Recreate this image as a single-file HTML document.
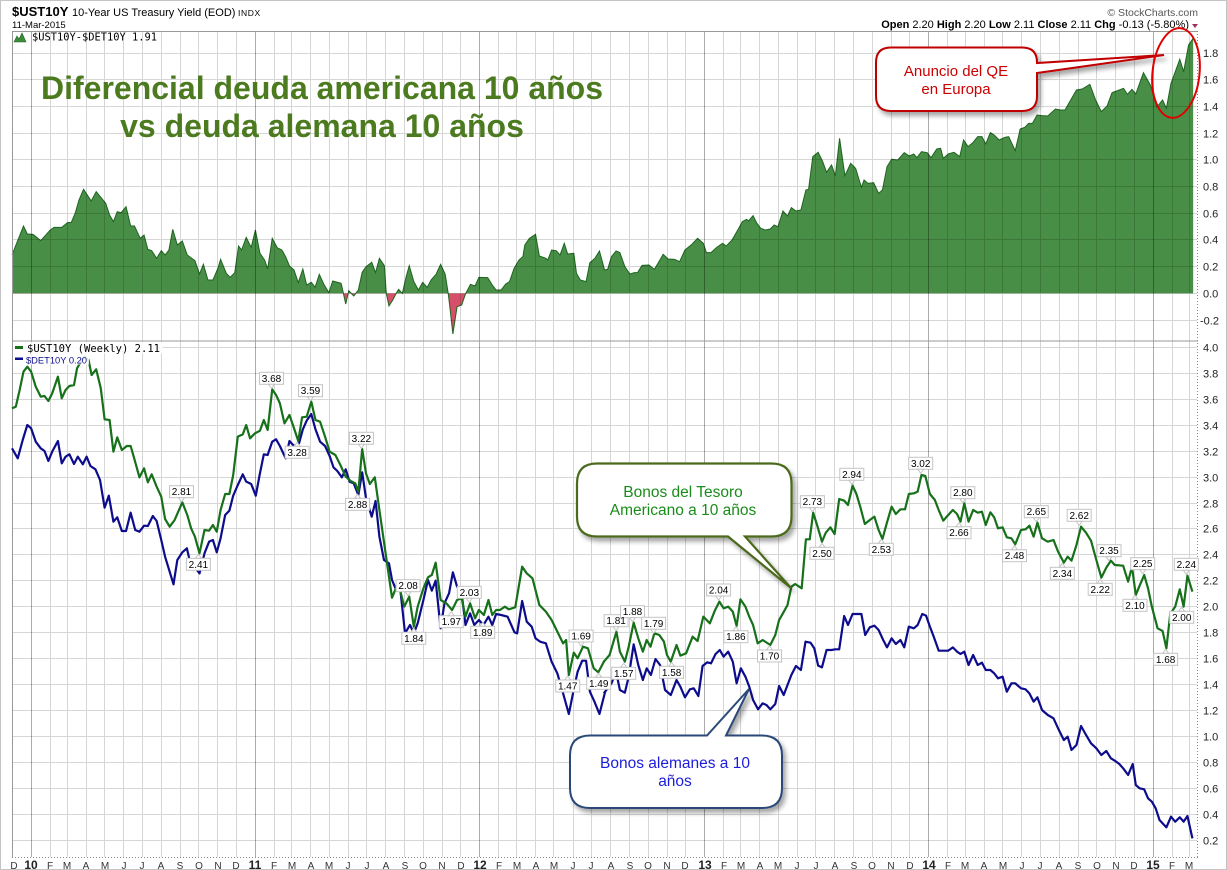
<!DOCTYPE html>
<html><head><meta charset="utf-8"><style>
html,body{margin:0;padding:0;background:#fff;}
svg{display:block;font-family:"Liberation Sans",Arial,sans-serif;}
</style></head><body>
<svg width="1227" height="870" viewBox="0 0 1227 870" xmlns="http://www.w3.org/2000/svg">
<defs>
<filter id="sh" x="-10%" y="-10%" width="130%" height="140%"><feDropShadow dx="3" dy="4" stdDeviation="2.5" flood-color="#000" flood-opacity="0.35"/></filter>
<clipPath id="negA" clipPathUnits="userSpaceOnUse"><rect x="-10" y="430" width="2000" height="400"/></clipPath>
</defs>
<rect x="0.5" y="0.5" width="1226" height="869" fill="#fff" stroke="#c4c4c4"/>

<!-- header -->
<text x="12" y="16" font-size="13" font-weight="bold" fill="#000">$UST10Y</text>
<text x="72" y="16" font-size="11" fill="#000">10-Year US Treasury Yield (EOD)</text>
<text x="238" y="16" font-size="8.5" fill="#000" letter-spacing="0.6">INDX</text>
<text x="12" y="28" font-size="9.5" fill="#000">11-Mar-2015</text>
<text x="1198" y="16" font-size="10.5" fill="#555" text-anchor="end">© StockCharts.com</text>
<text x="1189" y="28" font-size="11" fill="#000" text-anchor="end"><tspan font-weight="bold">Open</tspan> 2.20  <tspan font-weight="bold">High</tspan> 2.20  <tspan font-weight="bold">Low</tspan> 2.11  <tspan font-weight="bold">Close</tspan> 2.11  <tspan font-weight="bold">Chg</tspan> -0.13 (-5.80%)</text>
<polygon points="1192,24 1198,24 1195,28" fill="#a0305a"/>

<!-- spread area A -->
<g transform="translate(12,150) scale(0.38270,0.33333)">
<polygon fill="#488e46" points="0,315 30,228 40,252 55,253 75,272 100,240 110,232 130,232 145,218 155,217 165,190 175,150 187,118 207,153 220,125 245,160 255,195 265,215 275,185 285,188 298,170 310,228 320,228 335,265 345,255 355,298 365,302 378,325 390,302 400,315 410,300 420,238 432,285 445,273 458,315 478,332 490,372 500,343 512,390 525,390 538,355 545,328 560,370 570,382 582,368 592,288 600,300 612,262 625,292 636,240 648,310 660,330 668,357 680,265 693,293 705,300 715,320 725,348 737,360 748,398 760,357 770,405 782,397 792,412 803,373 815,403 828,428 838,393 860,400 866,430 872,462 880,422 893,438 905,420 915,367 925,350 940,337 950,368 960,325 973,347 978,430 985,468 995,450 1003,432 1010,418 1020,430 1030,380 1038,347 1050,395 1062,420 1073,397 1085,412 1095,390 1108,373 1120,343 1132,373 1140,432 1145,480 1152,552 1163,470 1175,465 1185,432 1198,403 1210,408 1220,382 1243,383 1255,405 1265,420 1278,420 1290,402 1300,395 1312,355 1325,330 1335,320 1340,285 1352,265 1368,253 1378,318 1395,325 1400,330 1410,300 1422,302 1432,315 1443,280 1452,312 1468,310 1475,370 1485,390 1500,395 1510,338 1523,325 1535,303 1548,358 1548,430 0,430"/>
<polygon fill="#d6506a" clip-path="url(#negA)" points="0,315 30,228 40,252 55,253 75,272 100,240 110,232 130,232 145,218 155,217 165,190 175,150 187,118 207,153 220,125 245,160 255,195 265,215 275,185 285,188 298,170 310,228 320,228 335,265 345,255 355,298 365,302 378,325 390,302 400,315 410,300 420,238 432,285 445,273 458,315 478,332 490,372 500,343 512,390 525,390 538,355 545,328 560,370 570,382 582,368 592,288 600,300 612,262 625,292 636,240 648,310 660,330 668,357 680,265 693,293 705,300 715,320 725,348 737,360 748,398 760,357 770,405 782,397 792,412 803,373 815,403 828,428 838,393 860,400 866,430 872,462 880,422 893,438 905,420 915,367 925,350 940,337 950,368 960,325 973,347 978,430 985,468 995,450 1003,432 1010,418 1020,430 1030,380 1038,347 1050,395 1062,420 1073,397 1085,412 1095,390 1108,373 1120,343 1132,373 1140,432 1145,480 1152,552 1163,470 1175,465 1185,432 1198,403 1210,408 1220,382 1243,383 1255,405 1265,420 1278,420 1290,402 1300,395 1312,355 1325,330 1335,320 1340,285 1352,265 1368,253 1378,318 1395,325 1400,330 1410,300 1422,302 1432,315 1443,280 1452,312 1468,310 1475,370 1485,390 1500,395 1510,338 1523,325 1535,303 1548,358 1548,430 0,430"/>
<polyline fill="none" stroke="#1e6420" stroke-width="1" vector-effect="non-scaling-stroke" points="0,315 30,228 40,252 55,253 75,272 100,240 110,232 130,232 145,218 155,217 165,190 175,150 187,118 207,153 220,125 245,160 255,195 265,215 275,185 285,188 298,170 310,228 320,228 335,265 345,255 355,298 365,302 378,325 390,302 400,315 410,300 420,238 432,285 445,273 458,315 478,332 490,372 500,343 512,390 525,390 538,355 545,328 560,370 570,382 582,368 592,288 600,300 612,262 625,292 636,240 648,310 660,330 668,357 680,265 693,293 705,300 715,320 725,348 737,360 748,398 760,357 770,405 782,397 792,412 803,373 815,403 828,428 838,393 860,400 866,430 872,462 880,422 893,438 905,420 915,367 925,350 940,337 950,368 960,325 973,347 978,430 985,468 995,450 1003,432 1010,418 1020,430 1030,380 1038,347 1050,395 1062,420 1073,397 1085,412 1095,390 1108,373 1120,343 1132,373 1140,432 1145,480 1152,552 1163,470 1175,465 1185,432 1198,403 1210,408 1220,382 1243,383 1255,405 1265,420 1278,420 1290,402 1300,395 1312,355 1325,330 1335,320 1340,285 1352,265 1368,253 1378,318 1395,325 1400,330 1410,300 1422,302 1432,315 1443,280 1452,312 1468,310 1475,370 1485,390 1500,395 1510,338 1523,325 1535,303 1548,358"/>
</g>
<!-- spread area B -->
<g transform="translate(600,30) scale(0.38270,0.33333)">
<polygon fill="#488e46" points="10,790 10,720 20,718 30,680 42,663 52,668 65,710 78,732 90,728 98,728 110,706 128,705 142,718 155,693 165,673 178,687 195,688 208,695 222,660 240,643 255,625 270,640 278,668 290,668 305,652 320,640 330,648 345,630 360,600 372,575 383,568 388,573 400,557 410,580 420,595 432,600 445,597 455,585 465,590 478,543 490,558 500,533 512,543 525,540 538,480 545,478 556,380 570,367 582,395 592,427 605,405 615,437 626,325 640,437 655,400 668,415 683,472 690,450 700,460 715,458 728,490 738,480 750,410 762,388 778,390 795,368 808,378 820,372 828,383 840,365 855,368 865,383 880,357 890,355 897,385 910,372 925,367 940,380 950,330 962,350 975,337 987,320 998,320 1008,342 1020,308 1030,315 1043,330 1058,322 1068,320 1085,362 1098,297 1110,292 1120,280 1130,280 1142,255 1155,257 1170,258 1190,237 1203,240 1215,240 1230,210 1245,180 1260,177 1280,163 1295,210 1310,245 1325,228 1338,188 1350,183 1368,175 1378,193 1390,178 1400,192 1420,128 1438,165 1455,232 1470,210 1480,235 1492,160 1515,88 1525,125 1538,45 1550,25 1550,790"/>
<polyline fill="none" stroke="#1e6420" stroke-width="1" vector-effect="non-scaling-stroke" points="10,720 20,718 30,680 42,663 52,668 65,710 78,732 90,728 98,728 110,706 128,705 142,718 155,693 165,673 178,687 195,688 208,695 222,660 240,643 255,625 270,640 278,668 290,668 305,652 320,640 330,648 345,630 360,600 372,575 383,568 388,573 400,557 410,580 420,595 432,600 445,597 455,585 465,590 478,543 490,558 500,533 512,543 525,540 538,480 545,478 556,380 570,367 582,395 592,427 605,405 615,437 626,325 640,437 655,400 668,415 683,472 690,450 700,460 715,458 728,490 738,480 750,410 762,388 778,390 795,368 808,378 820,372 828,383 840,365 855,368 865,383 880,357 890,355 897,385 910,372 925,367 940,380 950,330 962,350 975,337 987,320 998,320 1008,342 1020,308 1030,315 1043,330 1058,322 1068,320 1085,362 1098,297 1110,292 1120,280 1130,280 1142,255 1155,257 1170,258 1190,237 1203,240 1215,240 1230,210 1245,180 1260,177 1280,163 1295,210 1310,245 1325,228 1338,188 1350,183 1368,175 1378,193 1390,178 1400,192 1420,128 1438,165 1455,232 1470,210 1480,235 1492,160 1515,88 1525,125 1538,45 1550,25"/>
</g>

<!-- gridlines -->
<path fill="none" stroke="#000" stroke-opacity="0.16" stroke-width="1" d="M50.5 31V857M67.5 31V857M86.5 31V857M104.5 31V857M123.5 31V857M142.5 31V857M161.5 31V857M180.5 31V857M198.5 31V857M217.5 31V857M236.5 31V857M274.5 31V857M291.5 31V857M310.5 31V857M329.5 31V857M348.5 31V857M366.5 31V857M385.5 31V857M404.5 31V857M423.5 31V857M442.5 31V857M460.5 31V857M498.5 31V857M516.5 31V857M535.5 31V857M553.5 31V857M573.5 31V857M591.5 31V857M610.5 31V857M629.5 31V857M648.5 31V857M667.5 31V857M685.5 31V857M723.5 31V857M740.5 31V857M759.5 31V857M778.5 31V857M797.5 31V857M815.5 31V857M834.5 31V857M853.5 31V857M872.5 31V857M891.5 31V857M909.5 31V857M947.5 31V857M965.5 31V857M984.5 31V857M1002.5 31V857M1021.5 31V857M1040.5 31V857M1059.5 31V857M1078.5 31V857M1096.5 31V857M1115.5 31V857M1134.5 31V857M1172.5 31V857M1189.5 31V857
M12 53.5H1197M12 79.5H1197M12 106.5H1197M12 133.5H1197M12 159.5H1197M12 186.5H1197M12 213.5H1197M12 239.5H1197M12 266.5H1197M12 293.5H1197M12 320.5H1197
M12 347.5H1197M12 373.5H1197M12 399.5H1197M12 425.5H1197M12 451.5H1197M12 477.5H1197M12 503.5H1197M12 528.5H1197M12 554.5H1197M12 580.5H1197M12 606.5H1197M12 632.5H1197M12 658.5H1197M12 684.5H1197M12 710.5H1197M12 736.5H1197M12 762.5H1197M12 788.5H1197M12 814.5H1197M12 840.5H1197"/>
<path fill="none" stroke="#000" stroke-opacity="0.33" stroke-width="1" d="M31.5 31V857M255.5 31V857M479.5 31V857M704.5 31V857M928.5 31V857M1153.5 31V857"/>
<!-- frame -->
<path fill="none" stroke="#999" stroke-width="1" d="M12.5 31V857M12 31.5H1198M12 341H1198"/>
<path fill="none" stroke="#888" stroke-width="1" stroke-dasharray="1,2" d="M1197.5 31V857M12 857.5H1198"/>

<!-- legends top -->
<polygon points="14,42 17,36 19,39 22,33 26,42" fill="#3c8c3a" stroke="#1e6420" stroke-width="0.6"/>
<text x="32" y="40.5" font-family="'DejaVu Sans Mono',monospace" font-size="10.4" fill="#000" textLength="125" lengthAdjust="spacingAndGlyphs">$UST10Y-$DET10Y 1.91</text>

<!-- lines lower panel -->
<g transform="translate(12,340) scale(0.38270,0.33333)" fill="none" stroke-width="2.2" stroke-linejoin="round" vector-effect="non-scaling-stroke">
<polyline stroke="#0c0c8c" vector-effect="non-scaling-stroke" points="0,325 15,355 28,300 40,255 50,265 62,305 75,325 85,333 95,363 105,335 120,303 130,370 140,350 150,343 162,372 172,350 185,373 195,350 205,378 218,388 230,420 242,503 253,467 265,545 275,532 287,573 298,573 310,518 322,570 333,575 345,557 355,558 368,528 378,543 390,600 400,650 412,695 422,733 432,660 445,637 457,625 465,665 478,682 490,700 503,640 515,605 525,600 535,637 545,595 557,525 568,512 578,467 590,435 603,403 612,425 625,432 637,467 647,405 658,343 668,345 680,305 690,298 700,318 715,355 725,303 737,318 750,310 760,268 770,242 782,222 793,268 805,305 818,318 830,348 840,382 850,393 862,412 872,388 882,425 893,430 905,465 915,397 925,475 940,530 950,483 960,590 972,660 985,670 993,720 1003,748 1015,752 1027,880 1040,855 1050,880 1060,850 1075,780 1087,720 1097,752 1107,722 1120,865 1130,790 1142,760 1152,697 1163,740 1175,760 1185,855 1197,820 1208,855 1220,840 1232,855 1245,830 1255,855 1265,822 1278,825 1295,830 1313,877 1320,880 1333,783 1345,845 1358,860 1368,895 1380,905 1395,910 1410,965 1425,1000 1440,1060 1455,1122 1468,1048 1478,995 1490,962 1500,962 1510,1055 1522,1085 1535,1122 1550,1055"/>
<polyline stroke="#17701a" vector-effect="non-scaling-stroke" points="0,205 10,200 20,150 30,95 40,80 50,95 62,140 75,170 85,168 95,183 105,160 120,110 130,175 140,150 150,138 162,135 170,85 180,65 190,50 200,60 208,105 220,88 232,145 242,238 255,240 265,335 275,292 287,330 300,318 310,318 320,358 333,412 345,385 355,427 365,403 378,440 390,470 400,537 412,560 425,540 445,487 458,525 468,565 478,590 490,640 503,570 515,572 525,555 535,575 545,510 557,462 568,462 578,405 590,290 603,283 612,255 622,295 635,280 648,272 658,240 668,270 680,148 690,165 700,190 712,250 725,225 737,265 748,303 758,232 770,230 782,185 793,240 805,245 818,290 830,335 845,345 858,375 872,410 885,423 897,430 905,455 915,327 925,400 935,432 948,412 960,510 970,590 980,670 993,773 1003,745 1015,755 1025,800 1038,770 1050,860 1060,800 1075,745 1087,712 1097,705 1107,668 1120,780 1135,790 1150,810 1163,780 1175,775 1185,830 1197,790 1210,835 1220,810 1233,825 1245,780 1255,825 1265,810 1275,810 1288,800 1298,808 1315,802 1333,680 1345,700 1360,715 1378,795 1395,815 1410,840 1425,875 1440,910 1448,900 1455,1005 1468,938 1478,955 1492,920 1505,925 1520,985 1532,997 1548,962"/>
</g>
<g transform="translate(600,340) scale(0.38270,0.33333)" fill="none" stroke-width="2.2" stroke-linejoin="round">
<polyline stroke="#0c0c8c" vector-effect="non-scaling-stroke" points="10,1060 20,1045 30,1030 42,995 52,1050 65,1058 75,1010 88,913 100,975 112,1020 122,985 133,1005 145,957 157,975 170,1050 185,1065 200,1020 210,1040 222,1072 235,1048 245,1045 257,1068 268,978 280,967 290,970 302,942 313,930 323,950 335,935 347,965 357,1030 368,985 380,1010 390,1040 400,1080 413,1108 425,1090 435,1095 445,1108 458,1092 468,1038 480,1065 490,1035 500,1005 512,978 525,990 537,905 550,908 560,925 570,977 580,982 592,930 605,930 615,928 625,928 638,828 648,855 660,822 670,822 683,822 693,885 705,862 717,857 728,870 740,900 750,922 762,895 773,912 785,900 795,922 807,860 820,865 830,855 842,822 852,827 862,860 872,890 885,932 897,932 910,932 922,922 933,935 942,942 952,935 963,975 975,945 987,975 998,968 1008,990 1020,990 1030,1000 1040,1015 1052,1010 1063,1055 1075,1030 1085,1030 1100,1045 1112,1048 1122,1060 1133,1085 1143,1072 1155,1110 1170,1125 1185,1135 1197,1165 1212,1200 1222,1190 1232,1230 1245,1215 1257,1158 1270,1185 1283,1210 1297,1225 1310,1245 1323,1233 1335,1255 1345,1262 1357,1272 1367,1285 1380,1305 1392,1272 1400,1335 1410,1345 1422,1348 1432,1375 1442,1385 1452,1405 1462,1440 1480,1462 1492,1430 1503,1445 1515,1432 1525,1445 1535,1428 1548,1495"/>
<polyline stroke="#17701a" vector-effect="non-scaling-stroke" points="10,965 25,945 43,875 52,935 65,965 75,920 88,848 100,895 112,935 122,900 132,920 142,880 155,885 167,905 175,945 185,965 200,915 210,947 225,940 242,890 255,903 270,830 287,850 300,812 312,785 323,805 335,800 347,815 357,858 367,778 380,800 390,830 400,855 412,910 425,900 445,915 458,885 468,840 478,820 490,795 500,740 510,732 527,745 538,598 548,598 557,518 568,558 580,605 590,578 602,562 613,582 625,477 638,482 648,495 660,437 670,462 680,500 692,552 705,540 717,530 728,570 738,597 750,547 762,500 773,522 785,508 797,508 807,462 820,460 830,455 840,405 850,408 862,462 875,480 885,510 897,542 910,525 922,510 933,522 942,545 952,490 963,545 975,510 987,518 998,515 1008,555 1020,517 1030,532 1040,565 1052,562 1063,592 1075,595 1085,613 1100,570 1112,568 1122,557 1133,590 1143,548 1155,595 1170,605 1185,600 1197,635 1212,668 1222,650 1232,662 1245,615 1257,560 1270,578 1283,602 1297,660 1310,713 1323,683 1335,662 1345,675 1367,677 1380,725 1390,680 1400,765 1410,737 1422,705 1432,745 1442,800 1457,865 1470,873 1480,925 1490,822 1503,800 1515,748 1525,800 1535,707 1548,755"/>
</g>

<!-- lower legends -->
<rect x="13" y="342" width="150" height="11.5" fill="#fff" fill-opacity="0.85"/>
<rect x="13" y="353.5" width="76" height="11" fill="#fff" fill-opacity="0.85"/>
<rect x="15" y="346" width="8" height="3" fill="#17701a"/>
<text x="27" y="352" font-family="'DejaVu Sans Mono',monospace" font-size="10.5" fill="#000" textLength="133" lengthAdjust="spacingAndGlyphs">$UST10Y (Weekly) 2.11</text>
<rect x="15" y="357.5" width="8" height="2.5" fill="#0c0c8c"/>
<text x="26" y="363.5" font-size="9.5" fill="#0c0c8c" textLength="61" lengthAdjust="spacingAndGlyphs">$DET10Y 0.20</text>

<!-- value labels -->
<g font-size="10" text-anchor="middle" fill="#000">
<g fill="#fff" stroke="#c4c4c4" stroke-width="1">
<rect x="169.5" y="485.7" width="24" height="12"/><polygon points="178.5,497.7 184.5,497.7 181.5,501.7"/>
<rect x="186.4" y="558.3" width="24" height="12"/><polygon points="195.4,558.3 201.4,558.3 198.4,554.3"/>
<rect x="259.5" y="372.3" width="24" height="12"/><polygon points="268.5,384.3 274.5,384.3 271.5,388.3"/>
<rect x="298.5" y="384.7" width="24" height="12"/><polygon points="307.5,396.7 313.5,396.7 310.5,400.7"/>
<rect x="285.1" y="446.3" width="24" height="12"/><polygon points="294.1,446.3 300.1,446.3 297.1,442.3"/>
<rect x="349.4" y="432.3" width="24" height="12"/><polygon points="358.4,444.3 364.4,444.3 361.4,448.3"/>
<rect x="345.6" y="498.3" width="24" height="12"/><polygon points="354.6,498.3 360.6,498.3 357.6,494.3"/>
<rect x="396.1" y="579.7" width="24" height="12"/><polygon points="405.1,591.7 411.1,591.7 408.1,595.7"/>
<rect x="401.8" y="632.3" width="24" height="12"/><polygon points="410.8,632.3 416.8,632.3 413.8,628.3"/>
<rect x="457.3" y="586.3" width="24" height="12"/><polygon points="466.3,598.3 472.3,598.3 469.3,602.3"/>
<rect x="439.3" y="615.7" width="24" height="12"/><polygon points="448.3,615.7 454.3,615.7 451.3,611.7"/>
<rect x="470.7" y="626.3" width="24" height="12"/><polygon points="479.7,626.3 485.7,626.3 482.7,622.3"/>
<rect x="569.1" y="630" width="24" height="12"/><polygon points="578.1,642 584.1,642 581.1,646"/>
<rect x="555.7" y="680" width="24" height="12"/><polygon points="564.7,680 570.7,680 567.7,676"/>
<rect x="586.7" y="677.3" width="24" height="12"/><polygon points="595.7,677.3 601.7,677.3 598.7,673.3"/>
<rect x="604.1" y="614.7" width="24" height="12"/><polygon points="613.1,626.7 619.1,626.7 616.1,630.7"/>
<rect x="620.5" y="605.7" width="24" height="12"/><polygon points="629.5,617.7 635.5,617.7 632.5,621.7"/>
<rect x="641.6" y="617.3" width="24" height="12"/><polygon points="650.6,629.3 656.6,629.3 653.6,633.3"/>
<rect x="611.7" y="667.3" width="24" height="12"/><polygon points="620.7,667.3 626.7,667.3 623.7,663.3"/>
<rect x="659.6" y="666.3" width="24" height="12"/><polygon points="668.6,666.3 674.6,666.3 671.6,662.3"/>
<rect x="706.6" y="584" width="24" height="12"/><polygon points="715.6,596 721.6,596 718.6,600"/>
<rect x="723.9" y="630.7" width="24" height="12"/><polygon points="732.9,630.7 738.9,630.7 735.9,626.7"/>
<rect x="757.5" y="650" width="24" height="12"/><polygon points="766.5,650 772.5,650 769.5,646"/>
<rect x="800.4" y="495.7" width="24" height="12"/><polygon points="809.4,507.7 815.4,507.7 812.4,511.7"/>
<rect x="810" y="547.3" width="24" height="12"/><polygon points="819,547.3 825,547.3 822,543.3"/>
<rect x="839.8" y="468.3" width="24" height="12"/><polygon points="848.8,480.3 854.8,480.3 851.8,484.3"/>
<rect x="869.3" y="543.3" width="24" height="12"/><polygon points="878.3,543.3 884.3,543.3 881.3,539.3"/>
<rect x="908.7" y="457.3" width="24" height="12"/><polygon points="917.7,469.3 923.7,469.3 920.7,473.3"/>
<rect x="950.8" y="486.7" width="24" height="12"/><polygon points="959.8,498.7 965.8,498.7 962.8,502.7"/>
<rect x="947" y="526.7" width="24" height="12"/><polygon points="956,526.7 962,526.7 959,522.7"/>
<rect x="1002.5" y="549.7" width="24" height="12"/><polygon points="1011.5,549.7 1017.5,549.7 1014.5,545.7"/>
<rect x="1024.3" y="505.7" width="24" height="12"/><polygon points="1033.3,517.7 1039.3,517.7 1036.3,521.7"/>
<rect x="1067.2" y="509.3" width="24" height="12"/><polygon points="1076.2,521.3 1082.2,521.3 1079.2,525.3"/>
<rect x="1050.3" y="567.3" width="24" height="12"/><polygon points="1059.3,567.3 1065.3,567.3 1062.3,563.3"/>
<rect x="1097" y="544.7" width="24" height="12"/><polygon points="1106,556.7 1112,556.7 1109,560.7"/>
<rect x="1088.2" y="583.3" width="24" height="12"/><polygon points="1097.2,583.3 1103.2,583.3 1100.2,579.3"/>
<rect x="1130.7" y="557.7" width="24" height="12"/><polygon points="1139.7,569.7 1145.7,569.7 1142.7,573.7"/>
<rect x="1123" y="599.3" width="24" height="12"/><polygon points="1132,599.3 1138,599.3 1135,595.3"/>
<rect x="1174.3" y="558.3" width="24" height="12"/><polygon points="1183.3,570.3 1189.3,570.3 1186.3,574.3"/>
<rect x="1169.7" y="611.3" width="24" height="12"/><polygon points="1178.7,611.3 1184.7,611.3 1181.7,607.3"/>
<rect x="1153.6" y="653.3" width="24" height="12"/><polygon points="1162.6,653.3 1168.6,653.3 1165.6,649.3"/>
</g>
<text x="181.5" y="495.2">2.81</text><text x="198.4" y="567.8">2.41</text><text x="271.5" y="381.8">3.68</text><text x="310.5" y="394.2">3.59</text><text x="297.1" y="455.8">3.28</text><text x="361.4" y="441.8">3.22</text><text x="357.6" y="507.8">2.88</text><text x="408.1" y="589.2">2.08</text><text x="413.8" y="641.8">1.84</text><text x="469.3" y="595.8">2.03</text><text x="451.3" y="625.2">1.97</text><text x="482.7" y="635.8">1.89</text><text x="581.1" y="639.5">1.69</text><text x="567.7" y="689.5">1.47</text><text x="598.7" y="686.8">1.49</text><text x="616.1" y="624.2">1.81</text><text x="632.5" y="615.2">1.88</text><text x="653.6" y="626.8">1.79</text><text x="623.7" y="676.8">1.57</text><text x="671.6" y="675.8">1.58</text><text x="718.6" y="593.5">2.04</text><text x="735.9" y="640.2">1.86</text><text x="769.5" y="659.5">1.70</text><text x="812.4" y="505.2">2.73</text><text x="822" y="556.8">2.50</text><text x="851.8" y="477.8">2.94</text><text x="881.3" y="552.8">2.53</text><text x="920.7" y="466.8">3.02</text><text x="962.8" y="496.2">2.80</text><text x="959" y="536.2">2.66</text><text x="1014.5" y="559.2">2.48</text><text x="1036.3" y="515.2">2.65</text><text x="1079.2" y="518.8">2.62</text><text x="1062.3" y="576.8">2.34</text><text x="1109" y="554.2">2.35</text><text x="1100.2" y="592.8">2.22</text><text x="1142.7" y="567.2">2.25</text><text x="1135" y="608.8">2.10</text><text x="1186.3" y="567.8">2.24</text><text x="1181.7" y="620.8">2.00</text><text x="1165.6" y="662.8">1.68</text>
</g>

<!-- right axis labels -->
<g font-size="11" fill="#222">
<text x="1203" y="57">1.8</text><text x="1203" y="83.5">1.6</text><text x="1203" y="110.5">1.4</text><text x="1203" y="137.5">1.2</text><text x="1203" y="163.5">1.0</text><text x="1203" y="190.5">0.8</text><text x="1203" y="217.5">0.6</text><text x="1203" y="243.5">0.4</text><text x="1203" y="270.5">0.2</text><text x="1203" y="297.5">0.0</text><text x="1200" y="324.5">-0.2</text>
<text x="1203" y="351.5">4.0</text><text x="1203" y="377.5">3.8</text><text x="1203" y="403.5">3.6</text><text x="1203" y="429.5">3.4</text><text x="1203" y="455.5">3.2</text><text x="1203" y="481.5">3.0</text><text x="1203" y="507.5">2.8</text><text x="1203" y="532.5">2.6</text><text x="1203" y="558.5">2.4</text><text x="1203" y="584.5">2.2</text><text x="1203" y="610.5">2.0</text><text x="1203" y="636.5">1.8</text><text x="1203" y="662.5">1.6</text><text x="1203" y="688.5">1.4</text><text x="1203" y="714.5">1.2</text><text x="1203" y="740.5">1.0</text><text x="1203" y="766.5">0.8</text><text x="1203" y="792.5">0.6</text><text x="1203" y="818.5">0.4</text><text x="1203" y="844.5">0.2</text>
</g>

<!-- x axis labels -->
<g font-size="10" fill="#333" text-anchor="middle">
<text x="14" y="869">D</text>
<text x="50" y="869">F</text><text x="67" y="869">M</text><text x="86" y="869">A</text><text x="105" y="869">M</text><text x="124" y="869">J</text><text x="142" y="869">J</text><text x="161" y="869">A</text><text x="180" y="869">S</text><text x="199" y="869">O</text><text x="218" y="869">N</text><text x="236" y="869">D</text>
<text x="274" y="869">F</text><text x="292" y="869">M</text><text x="311" y="869">A</text><text x="329" y="869">M</text><text x="348" y="869">J</text><text x="367" y="869">J</text><text x="386" y="869">A</text><text x="405" y="869">S</text><text x="423" y="869">O</text><text x="442" y="869">N</text><text x="461" y="869">D</text>
<text x="499" y="869">F</text><text x="517" y="869">M</text><text x="536" y="869">A</text><text x="554" y="869">M</text><text x="573" y="869">J</text><text x="591" y="869">J</text><text x="611" y="869">A</text><text x="630" y="869">S</text><text x="648" y="869">O</text><text x="667" y="869">N</text><text x="685" y="869">D</text>
<text x="724" y="869">F</text><text x="741" y="869">M</text><text x="760" y="869">A</text><text x="778" y="869">M</text><text x="797" y="869">J</text><text x="816" y="869">J</text><text x="835" y="869">A</text><text x="854" y="869">S</text><text x="872" y="869">O</text><text x="891" y="869">N</text><text x="910" y="869">D</text>
<text x="948" y="869">F</text><text x="965" y="869">M</text><text x="984" y="869">A</text><text x="1003" y="869">M</text><text x="1022" y="869">J</text><text x="1040" y="869">J</text><text x="1059" y="869">A</text><text x="1078" y="869">S</text><text x="1097" y="869">O</text><text x="1116" y="869">N</text><text x="1134" y="869">D</text>
<text x="1172" y="869">F</text><text x="1189" y="869">M</text>
<g font-weight="bold" font-size="12" fill="#222"><text x="31" y="869">10</text><text x="255" y="869">11</text><text x="480" y="869">12</text><text x="705" y="869">13</text><text x="929" y="869">14</text><text x="1153" y="869">15</text></g>
</g>

<!-- title overlay -->
<g font-size="32" font-weight="bold" fill="#4b7a1f" text-anchor="middle">
<text x="322" y="99">Diferencial deuda americana 10 años</text>
<text x="322" y="137">vs deuda alemana 10 años</text>
</g>

<!-- callouts -->
<path filter="url(#sh)" fill="#fff" stroke="#c00000" stroke-width="2" d="M891,47.5 H1022 Q1037,47.5 1037,62.5 V63 L1164,55 L1037,73 V96 Q1037,111 1022,111 H891 Q876,111 876,96 V62.5 Q876,47.5 891,47.5 Z"/>
<g font-size="15" fill="#cc0000" text-anchor="middle"><text x="956" y="76">Anuncio del QE</text><text x="956" y="94">en Europa</text></g>
<ellipse cx="1176" cy="73" rx="23.5" ry="45" fill="none" stroke="#e00000" stroke-width="2" transform="rotate(6 1176 73)"/>

<path filter="url(#sh)" fill="#fff" stroke="#4b6b1b" stroke-width="2.2" d="M597,463.5 H771.5 Q791.5,463.5 791.5,483.5 V516.5 Q791.5,536.5 771.5,536.5 H745 L791,588 L728,536.5 H597 Q577,536.5 577,516.5 V483.5 Q577,463.5 597,463.5 Z"/>
<g font-size="15.5" fill="#1a8c1a" text-anchor="middle"><text x="683" y="497">Bonos del Tesoro</text><text x="683" y="515">Americano a 10 años</text></g>

<path filter="url(#sh)" fill="#fff" stroke="#2b4a78" stroke-width="2" d="M590,735.5 H707 L749,689 L726,735.5 H762 Q782,735.5 782,755.5 V788 Q782,808 762,808 H590 Q570,808 570,788 V755.5 Q570,735.5 590,735.5 Z"/>
<g font-size="15.5" fill="#1c1cdc" text-anchor="middle"><text x="675" y="768">Bonos alemanes a 10</text><text x="675" y="786">años</text></g>
</svg>
</body></html>
